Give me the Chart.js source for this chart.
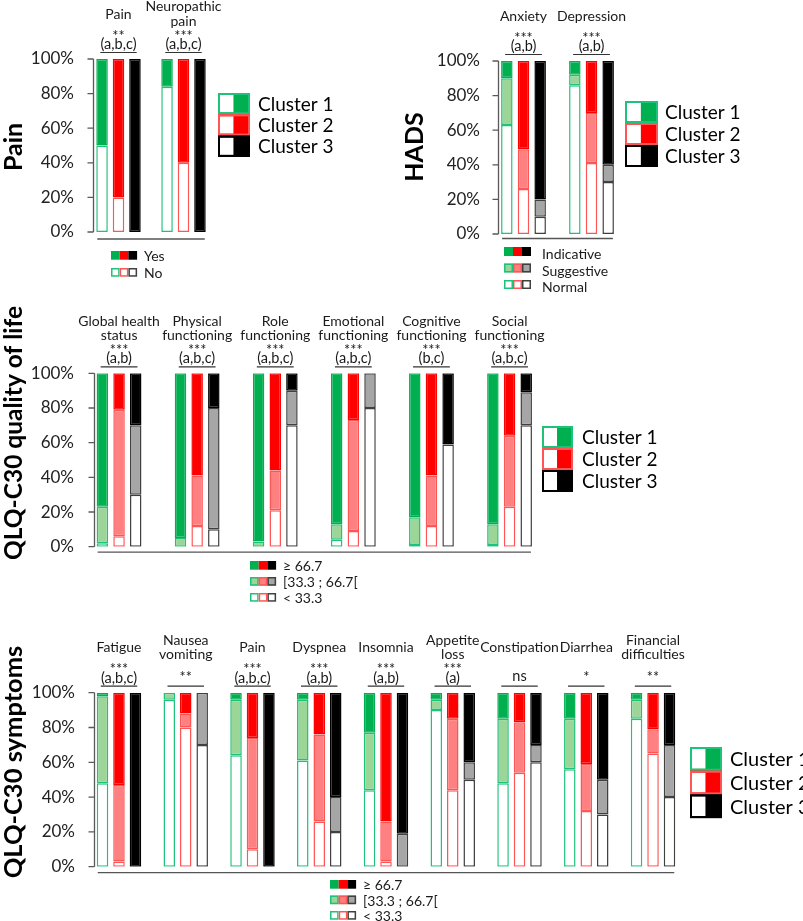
<!DOCTYPE html>
<html>
<head>
<meta charset="utf-8">
<script src="https://cdn.jsdelivr.net/npm/chart.js@4.4.1/dist/chart.umd.min.js"></script>
<style>
body{margin:0;background:#fff;}
#wrap{position:relative;width:803px;height:921px;overflow:hidden;}
canvas{position:absolute;}
</style>
</head>
<body>
<div id="wrap">
<canvas id="painChart" width="400" height="300" style="left:0;top:0"></canvas>
<canvas id="hadsChart" width="403" height="300" style="left:400px;top:0"></canvas>
<canvas id="qolChart" width="803" height="312" style="left:0;top:300px"></canvas>
<canvas id="symChart" width="803" height="321" style="left:0;top:600px"></canvas>
</div>
<script>
// ---- data (percent of patients per cluster) ----
const painCats = [['Pain'], ['Neuropathic', 'pain']];
const painStars = ['**', '***'];
const painLetters = ['(a,b,c)', '(a,b,c)'];
const painKey = ['Yes', 'No'];
const painC1No = [50, 84];
const painC1Yes = [50, 16];
const painC2No = [20, 40];
const painC2Yes = [80, 60];
const painC3No = [0, 0];
const painC3Yes = [100, 100];

const hadsCats = [['Anxiety'], ['Depression']];
const hadsStars = ['***', '***'];
const hadsLetters = ['(a,b)', '(a,b)'];
const hadsKey = ['Indicative', 'Suggestive', 'Normal'];
const hadsC1Normal = [63, 86];
const hadsC1Sugg = [27, 6];
const hadsC1Ind = [10, 8];
const hadsC2Normal = [26, 41];
const hadsC2Sugg = [23, 29];
const hadsC2Ind = [51, 30];
const hadsC3Normal = [10, 30];
const hadsC3Sugg = [10, 10];
const hadsC3Ind = [80, 60];

const scoreKey = ['\u2265 66.7', '[33.3 ; 66.7[', '< 33.3'];

const qolCats = [['Global health', 'status'], ['Physical', 'functioning'], ['Role', 'functioning'],
  ['Emotional', 'functioning'], ['Cognitive', 'functioning'], ['Social', 'functioning']];
const qolStars = ['***', '***', '***', '***', '***', '***'];
const qolLetters = ['(a,b)', '(a,b,c)', '(a,b,c)', '(a,b,c)', '(b,c)', '(a,b,c)'];
const qolC1Low = [2, 0, 0, 4, 1, 1];
const qolC1Mid = [21, 5, 3, 9, 16, 12];
const qolC1High = [77, 95, 97, 87, 83, 87];
const qolC2Low = [6, 12, 21, 9, 12, 23];
const qolC2Mid = [73, 29, 23, 64, 29, 41];
const qolC2High = [21, 59, 56, 27, 59, 36];
const qolC3Low = [30, 10, 70, 80, 59, 70];
const qolC3Mid = [40, 70, 20, 20, 0, 19];
const qolC3High = [30, 20, 10, 0, 41, 11];

const symCats = [['Fatigue'], ['Nausea', 'vomiting'], ['Pain'], ['Dyspnea'], ['Insomnia'],
  ['Appetite', 'loss'], ['Constipation'], ['Diarrhea'], ['Financial', 'difficulties']];
const symStars = ['***', '**', '***', '***', '***', '***', 'ns', '*', '**'];
const symLetters = ['(a,b,c)', '', '(a,b,c)', '(a,b)', '(a,b)', '(a)', '', '', ''];
const symC1Low = [48, 96, 64, 61, 44, 90, 48, 56, 85];
const symC1Mid = [50, 4, 32, 35, 33, 6, 37, 29, 11];
const symC1High = [2, 0, 4, 4, 23, 4, 15, 15, 4];
const symC2Low = [3, 80, 10, 26, 3, 44, 54, 32, 65];
const symC2Mid = [44, 8, 64, 50, 23, 41, 29, 27, 14];
const symC2High = [53, 12, 26, 24, 74, 15, 17, 41, 21];
const symC3Low = [0, 70, 0, 20, 0, 50, 60, 30, 40];
const symC3Mid = [0, 30, 0, 20, 19, 10, 10, 20, 30];
const symC3High = [100, 0, 100, 60, 81, 40, 30, 50, 30];

// ---- colours ----
const clusterColors = [
  {solid: '#00b050', light: '#9bd597', line: '#1fc27b'},
  {solid: '#ff0000', light: '#ff8080', line: '#ff5555'},
  {solid: '#000000', light: '#a6a6a6', line: '#404040'}
];
const FONT = 'Lato, "Open Sans", sans-serif';

function buildSets(clusters, catPct, barPct) {
  let sets = [];
  clusters.forEach(function (levels, c) {
    let col = clusterColors[c];
    levels.forEach(function (vals, l) {
      let fill = '#ffffff';
      if (l == levels.length - 1 && l > 0) fill = col.solid;
      else if (l > 0) fill = col.light;
      sets.push({
        data: vals,
        stack: 's' + c,
        backgroundColor: fill,
        borderColor: fill == col.solid ? col.solid : col.line,
        borderWidth: 1.5,
        borderSkipped: false,
        categoryPercentage: catPct,
        barPercentage: barPct
      });
    });
  });
  return sets;
}

const decor = {
  id: 'decor',
  afterDraw(chart, args, o) {
    const ctx = chart.ctx, area = chart.chartArea, ys = chart.scales.y;
    const n = chart.data.labels.length;
    const metas = chart.getSortedVisibleDatasetMetas();
    let lefts = [], rights = [];
    for (let i = 0; i < n; i++) {
      let l = Infinity, r = -Infinity;
      metas.forEach(function (m) {
        const b = m.data[i];
        l = Math.min(l, b.x - b.width / 2);
        r = Math.max(r, b.x + b.width / 2);
      });
      lefts.push(l); rights.push(r);
    }
    ctx.save();
    // y axis line + ticks
    ctx.strokeStyle = '#595959';
    ctx.lineWidth = 1.3;
    const ax = Math.round(lefts[0] - 3) + 0.5;
    ctx.beginPath();
    ctx.moveTo(ax, ys.top); ctx.lineTo(ax, ys.bottom);
    for (let v = 0; v <= 100; v += 20) {
      const py = ys.getPixelForValue(v);
      ctx.moveTo(ax - 6, py); ctx.lineTo(ax, py);
    }
    ctx.stroke();
    // bottom line
    ctx.strokeStyle = '#555';
    ctx.beginPath();
    ctx.moveTo(lefts[0] + 1, area.bottom + o.baseGap);
    ctx.lineTo(rights[n - 1] - 1, area.bottom + o.baseGap);
    ctx.stroke();
    // group headers
    ctx.fillStyle = '#1a1a1a';
    ctx.textAlign = 'center';
    const lineY = area.top - 6.5;
    const fs = 14.5;
    for (let i = 0; i < n; i++) {
      const cx = (lefts[i] + rights[i]) / 2;
      ctx.strokeStyle = '#333';
      ctx.lineWidth = 1.2;
      ctx.beginPath();
      ctx.moveTo(lefts[i] + 4, lineY); ctx.lineTo(rights[i] - 4, lineY);
      ctx.stroke();
      ctx.font = fs + 'px ' + FONT;
      ctx.textBaseline = 'alphabetic';
      const st = o.stars[i];
      const isStar = /^\*+$/.test(st);
      const off = isStar ? fs * 0.52 : fs * 0.28;
      if (o.letters[i]) {
        ctx.fillText(o.letters[i], cx, lineY - 8 + fs * 0.3);
        ctx.fillText(st, cx, lineY - 19.5 + off);
      } else {
        ctx.fillText(st, cx, lineY - (isStar ? 12 : 9) + off);
      }
      ctx.font = '14px ' + FONT;
      ctx.textBaseline = 'middle';
      const lines = o.titles[i];
      const lh = 14.5;
      const y0 = lineY - 38.5 - (lines.length - 1) * lh / 2;
      lines.forEach(function (t, k) { ctx.fillText(t, cx, y0 + k * lh); });
    }
    // rotated y title
    ctx.save();
    ctx.translate(o.yTitle.x, o.yTitle.y);
    ctx.rotate(-Math.PI / 2);
    ctx.font = 'bold ' + o.yTitle.fs + 'px ' + FONT;
    ctx.fillStyle = '#000';
    ctx.textBaseline = 'middle';
    ctx.fillText(o.yTitle.text, 0, 0);
    ctx.restore();
    // cluster legend
    const lg = o.legend;
    ctx.textAlign = 'left';
    ctx.textBaseline = 'middle';
    ctx.font = lg.fs + 'px ' + FONT;
    for (let c = 0; c < 3; c++) {
      const col = clusterColors[c];
      const by = lg.y + c * lg.h;
      ctx.fillStyle = col.solid;
      ctx.fillRect(lg.x, by, lg.w, lg.h);
      ctx.fillStyle = '#fff';
      ctx.fillRect(lg.x + 2, by + 2, lg.w * 0.42, lg.h - 4);
      ctx.strokeStyle = col.solid == '#000000' ? '#000' : col.line;
      ctx.lineWidth = 2;
      ctx.strokeRect(lg.x + 1, by + 1, lg.w - 2, lg.h - 2);
      ctx.fillStyle = '#000';
      ctx.fillText('Cluster ' + (c + 1), lg.textX, by + lg.h / 2 + 1);
    }
    // level key
    const k = o.key;
    ctx.font = k.fs + 'px ' + FONT;
    k.labels.forEach(function (label, r) {
      const ry = k.y + r * k.rowH;
      let kind = k.labels.length == 2 ? (r == 0 ? 'solid' : 'white') : ['solid', 'light', 'white'][r];
      for (let c = 0; c < 3; c++) {
        const col = clusterColors[c];
        const sx = k.x + c * k.sq;
        if (kind == 'solid') {
          ctx.fillStyle = col.solid;
          ctx.fillRect(sx, ry, k.sq, k.sq);
        } else {
          ctx.fillStyle = kind == 'light' ? col.light : '#fff';
          ctx.fillRect(sx, ry, k.sq, k.sq);
          ctx.strokeStyle = col.line;
          ctx.lineWidth = 1.5;
          ctx.strokeRect(sx + 0.75, ry + 0.75, k.sq - 1.5, k.sq - 1.5);
        }
      }
      ctx.fillStyle = '#1a1a1a';
      ctx.fillText(label, k.textX, ry + k.sq / 2 + k.dy);
    });
    ctx.restore();
  }
};

function makeChart(id, cats, clusters, p) {
  return new Chart(document.getElementById(id), {
    type: 'bar',
    data: {labels: cats.map(function (c) { return c.join(' '); }), datasets: buildSets(clusters, p.catPct, p.barPct)},
    options: {
      responsive: false,
      animation: false,
      events: [],
      layout: {padding: {left: 0, right: p.padRight, top: p.padTop, bottom: p.padBottom}},
      plugins: {
        legend: {display: false},
        tooltip: {enabled: false},
        decor: p.decor
      },
      scales: {
        x: {display: false, stacked: true},
        y: {
          stacked: true, min: 0, max: 100,
          afterFit: function (s) { s.width = p.axisW; },
          border: {display: false},
          grid: {display: false, drawTicks: false},
          ticks: {stepSize: 20, padding: p.tickPad, color: '#222', font: {family: FONT, size: 17},
            callback: function (v) { return v + '%'; }}
        }
      }
    },
    plugins: [decor]
  });
}

makeChart('painChart', painCats,
  [[painC1No, painC1Yes], [painC2No, painC2Yes], [painC3No, painC3Yes]],
  {axisW: 86, padTop: 59, padBottom: 68, padRight: 184, tickPad: 12, catPct: 0.76, barPct: 0.7,
    decor: {titles: painCats, stars: painStars, letters: painLetters, baseGap: 7,
      yTitle: {text: 'Pain', x: 14, y: 147, fs: 25},
      legend: {x: 218, y: 93, w: 32, h: 21.3, textX: 258, fs: 19},
      key: {labels: painKey, x: 111, y: 251, sq: 8.7, rowH: 17, textX: 144, fs: 14, dy: 1.5}}});

makeChart('hadsChart', hadsCats,
  [[hadsC1Normal, hadsC1Sugg, hadsC1Ind], [hadsC2Normal, hadsC2Sugg, hadsC2Ind], [hadsC3Normal, hadsC3Sugg, hadsC3Ind]],
  {axisW: 89.5, padTop: 61, padBottom: 66, padRight: 177.5, tickPad: 9.5, catPct: 0.735, barPct: 0.69,
    decor: {titles: hadsCats, stars: hadsStars, letters: hadsLetters, baseGap: 4.5,
      yTitle: {text: 'HADS', x: 15, y: 147, fs: 25},
      legend: {x: 225, y: 101, w: 33, h: 22, textX: 265, fs: 19},
      key: {labels: hadsKey, x: 104, y: 247, sq: 9, rowH: 16.5, textX: 142, fs: 14, dy: 3}}});

makeChart('qolChart', qolCats,
  [[qolC1Low, qolC1Mid, qolC1High], [qolC2Low, qolC2Mid, qolC2High], [qolC3Low, qolC3Mid, qolC3High]],
  {axisW: 80, padTop: 73.3, padBottom: 65.3, padRight: 254.4, tickPad: 6, catPct: 0.64, barPct: 0.69,
    decor: {titles: qolCats, stars: qolStars, letters: qolLetters, baseGap: 5.5,
      yTitle: {text: 'QLQ-C30 quality of life', x: 14, y: 133, fs: 24.5},
      legend: {x: 542, y: 126, w: 31, h: 22, textX: 582, fs: 19},
      key: {labels: scoreKey, x: 250, y: 261, sq: 8.7, rowH: 16, textX: 283, fs: 14, dy: 1.5}}});

makeChart('symChart', symCats,
  [[symC1Low, symC1Mid, symC1High], [symC2Low, symC2Mid, symC2High], [symC3Low, symC3Mid, symC3High]],
  {axisW: 85.6, padTop: 92.7, padBottom: 54.3, padRight: 116.6, tickPad: 10.6, catPct: 0.74, barPct: 0.7,
    decor: {titles: symCats, stars: symStars, letters: symLetters, baseGap: 6,
      yTitle: {text: 'QLQ-C30 symptoms', x: 14, y: 162, fs: 25.5},
      legend: {x: 690, y: 147, w: 32, h: 23.7, textX: 730, fs: 20},
      key: {labels: scoreKey, x: 330, y: 280, sq: 8.7, rowH: 15.5, textX: 363, fs: 14, dy: 1.5}}});
</script>
</body>
</html>
